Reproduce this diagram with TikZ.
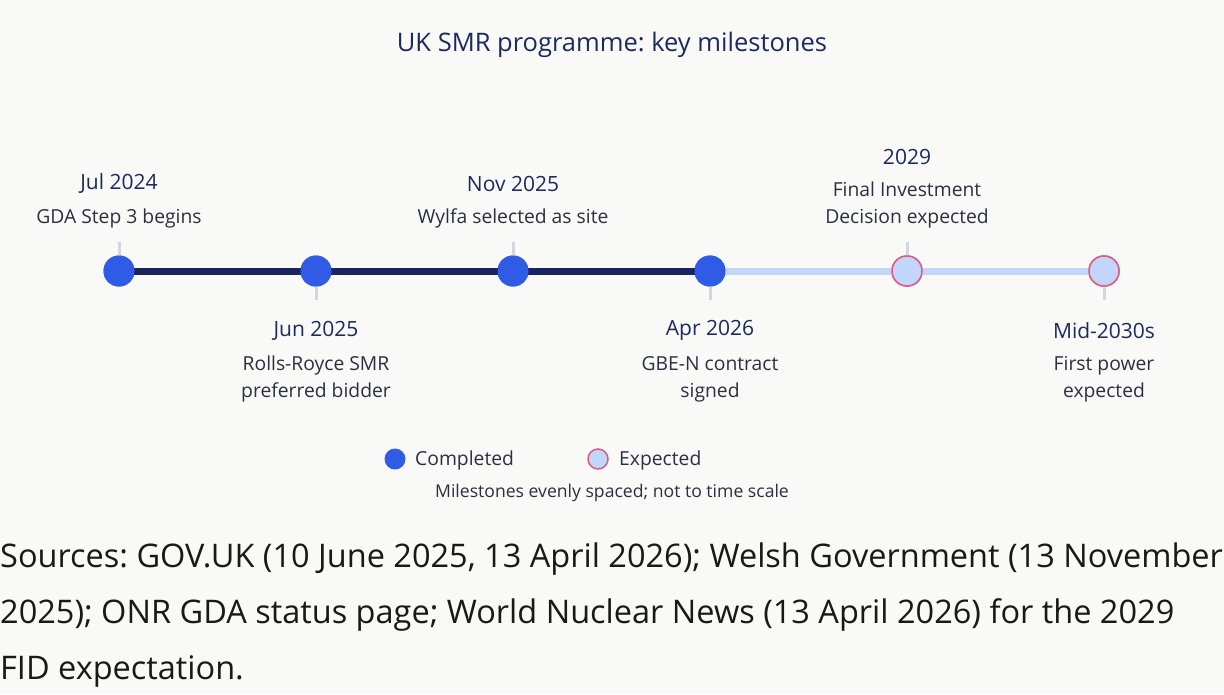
\documentclass[tikz,border=0pt]{standalone}
\usepackage{fontspec}
\setmainfont{Open Sans}
\frenchspacing
\usetikzlibrary{positioning}
\definecolor{bgcol}{HTML}{F9F9F7}
\definecolor{navy}{HTML}{1B2360}
\definecolor{donecol}{HTML}{2F5BE6}
\definecolor{pendcol}{HTML}{C2D5FB}
\definecolor{pinkcol}{HTML}{E25A80}
\definecolor{tickcol}{HTML}{D3D6DD}
\definecolor{txtcol}{HTML}{1C2A5C}
\definecolor{desccol}{HTML}{2B2F3F}
\tikzset{
  done/.style={circle, fill=donecol, minimum size=31, inner sep=0},
  pend/.style={circle, fill=pendcol, draw=pinkcol, line width=1.5, minimum size=30, inner sep=0},
  datelbl/.style={text=txtcol, font=\fontsize{21}{25}\selectfont},
  desclbl/.style={text=desccol, align=center, font=\fontsize{19.3}{27}\selectfont},
  ticker/.style={draw=tickcol, line width=3},
}
\begin{document}
\begin{tikzpicture}[x=1pt, y=-1pt]
  %%%%% START %%%%%
  \fill[bgcol] (0,0) rectangle (1224,694);
  \useasboundingbox (0,0) rectangle (1224,694);

  \node[text=txtcol, font=\fontsize{25.5}{30}\selectfont] (title) at (612,44.5) {UK SMR programme: key milestones};

  % milestone dots
  \node[done] (m1) at (119,271) {};
  \node[done] (m2) at (316,271) {};
  \node[done] (m3) at (513,271) {};
  \node[done] (m4) at (710,271) {};
  \node[pend] (m5) at (907,271) {};
  \node[pend] (m6) at (1104,271) {};

  % tick ends
  \coordinate (t1) at (119,242);
  \coordinate (t2) at (316,300);
  \coordinate (t3) at (513,242);
  \coordinate (t4) at (710,300);
  \coordinate (t5) at (907,242);
  \coordinate (t6) at (1104,300);

  \draw[ticker] (m1.center) -- (t1);
  \draw[ticker] (m2.center) -- (t2);
  \draw[ticker] (m3.center) -- (t3);
  \draw[ticker] (m4.center) -- (t4);
  \draw[ticker] (m5.center) -- (t5);
  \draw[ticker] (m6.center) -- (t6);

  \draw[line width=7, pendcol] (m4.center) -- (m5.center) -- (m6.center);
  \draw[line width=7, navy] (m1.center) -- (m2.center) -- (m3.center) -- (m4.center);

  % redraw dots on top
  \node[done] at (m1) {};
  \node[done] at (m2) {};
  \node[done] at (m3) {};
  \node[done] at (m4) {};
  \node[pend] at (m5) {};
  \node[pend] at (m6) {};

  % labels above
  \node[datelbl] (d1) at (119,183.5) {Jul 2024};
  \node[desclbl] (e1) at (119,218.5) {GDA Step 3 begins};
  \node[datelbl] (d3) at (513,183.5) {Nov 2025};
  \node[desclbl] (e3) at (513,218.5) {Wylfa selected as site};
  \node[datelbl] (d5) at (907,156.5) {2029};
  \node[desclbl] (e5) at (907,205) {Final Investment\\Decision expected};

  % labels below
  \node[datelbl] (d2) at (316,330.5) {Jun 2025};
  \node[desclbl] (e2) at (316,379) {Rolls-Royce SMR\\preferred bidder};
  \node[datelbl] (d4) at (710,330.5) {Apr 2026};
  \node[desclbl] (e4) at (710,379) {GBE-N contract\\signed};
  \node[datelbl] (d6) at (1104,330.5) {Mid-2030s};
  \node[desclbl] (e6) at (1104,379) {First power\\expected};

  % legend
  \node[done, minimum size=21] (lg1) at (395,459) {};
  \node[desclbl, anchor=west, inner sep=0] (lt1) at (415,460.5) {Completed};
  \node[pend, minimum size=20] (lg2) at (598,459) {};
  \node[desclbl, anchor=west, inner sep=0] (lt2) at (619,460.5) {Expected};
  \node[desclbl, font=\fontsize{17.6}{20}\selectfont] (note) at (612,492.5) {Milestones evenly spaced; not to time scale};

  % sources
  \node[anchor=north west, inner sep=0, align=left, text=black!90, font=\fontsize{32.5}{56}\selectfont] (src) at (0,542.5)
    {Sources: GOV.UK (10 June 2025, 13 April 2026); Welsh Government (13 November\\
     2025); ONR GDA status page; World Nuclear News (13 April 2026) for the 2029\\
     FID expectation.};
  %%%%% END %%%%%
\end{tikzpicture}
\end{document}
